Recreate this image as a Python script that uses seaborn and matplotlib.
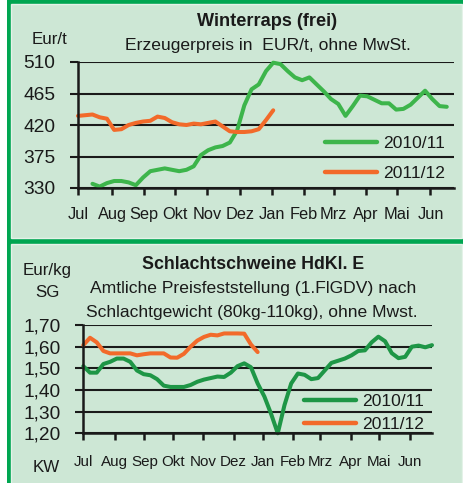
import matplotlib
matplotlib.use("Agg")
import matplotlib.pyplot as plt
import seaborn as sns
import pandas as pd
from matplotlib.patches import Rectangle

# ---------------- data ----------------
months = ["Jul", "Aug", "Sep", "Okt", "Nov", "Dez", "Jan", "Feb", "Mrz", "Apr", "Mai", "Jun"]
month_pos = [0, 4.7, 9.1, 13.45, 17.9, 22.4, 26.8, 31.2, 35.35, 39.85, 44.15, 48.75]  # week of month start
seasons = ["2010/11", "2011/12"]

raps_weeks_1011 = list(range(2, 52))
raps_1011 = [336, 332, 337, 340, 340, 338, 334, 345, 354, 356,
             358, 356, 354, 356, 361, 377, 384, 388, 390, 395,
             412, 448, 471, 478, 497, 509, 507, 497, 488, 484,
             488, 478, 468, 457, 450, 433, 447, 462, 461, 456,
             451, 451, 442, 443, 449, 459, 469, 457, 447, 446]
raps_weeks_1112 = list(range(0, 28))
raps_1112 = [433, 434, 435, 431, 429, 413, 414, 420, 423, 425,
             426, 432, 430, 424, 421, 420, 422, 421, 423, 425,
             418, 411, 410, 410, 411, 414, 427, 441]

sw_weeks_1011 = list(range(0, 53))
sw_1011 = [1.51, 1.48, 1.48, 1.52, 1.53, 1.545, 1.545, 1.53, 1.49, 1.473,
           1.468, 1.45, 1.42, 1.414, 1.414, 1.414, 1.423, 1.438, 1.448, 1.455,
           1.462, 1.46, 1.48, 1.51, 1.523, 1.505, 1.43, 1.37, 1.29, 1.20,
           1.33, 1.43, 1.476, 1.47, 1.45, 1.455, 1.49, 1.525, 1.535, 1.545,
           1.56, 1.58, 1.583, 1.62, 1.646, 1.625, 1.57, 1.547, 1.553, 1.60,
           1.605, 1.597, 1.607]
sw_weeks_1112 = list(range(0, 27))
sw_1112 = [1.607, 1.641, 1.62, 1.58, 1.569, 1.569, 1.569, 1.569, 1.56, 1.565,
           1.569, 1.569, 1.569, 1.55, 1.549, 1.567, 1.60, 1.628, 1.645, 1.655,
           1.652, 1.661, 1.661, 1.661, 1.66, 1.61, 1.575]

raps_ticks = [330, 375, 420, 465, 510]
sw_ticks = [1.20, 1.30, 1.40, 1.50, 1.60, 1.70]
sw_ticklabels = ["1,20", "1,30", "1,40", "1,50", "1,60", "1,70"]

df_raps = pd.concat([
    pd.DataFrame({"week": raps_weeks_1011, "value": raps_1011, "season": seasons[0]}),
    pd.DataFrame({"week": raps_weeks_1112, "value": raps_1112, "season": seasons[1]}),
])
df_sw = pd.concat([
    pd.DataFrame({"week": sw_weeks_1011, "value": sw_1011, "season": seasons[0]}),
    pd.DataFrame({"week": sw_weeks_1112, "value": sw_1112, "season": seasons[1]}),
])

# ---------------- style ----------------
sns.set_theme(style="white")
FONT = ["Liberation Sans", "DejaVu Sans"]
plt.rcParams["font.family"] = FONT
INK = "#1a1a1a"

W, H = 464, 483
fig = plt.figure(figsize=(W / 100, H / 100), dpi=100)
fig.patch.set_facecolor("white")

def fx(px):
    return px / W

def fy(py):
    return 1 - py / H

BORDER = "#00a651"
PANEL = "#cde7d5"
fig.patches.append(Rectangle((fx(7), 0), fx(464) - fx(7), 1, transform=fig.transFigure,
                             facecolor=BORDER, edgecolor="none", zorder=-3))
fig.patches.append(Rectangle((fx(11.5), fy(237.5)), fx(462) - fx(11.5), fy(4) - fy(237.5),
                             transform=fig.transFigure, facecolor=PANEL,
                             edgecolor="#e4f2e8", linewidth=1, zorder=-2))
fig.patches.append(Rectangle((fx(11.5), fy(485)), fx(462) - fx(11.5), fy(243.5) - fy(485),
                             transform=fig.transFigure, facecolor=PANEL,
                             edgecolor="#e4f2e8", linewidth=1, zorder=-2))

top_pal = {"2010/11": "#3db54b", "2011/12": "#f26a2a"}
bot_pal = {"2010/11": "#1e9646", "2011/12": "#f26a2a"}

def style_axes(ax, ylim, yticks, yticklabels, month_fs, month_pad):
    ax.set_zorder(5)
    ax.set_facecolor("none")
    ax.set_xlim(0, 52)
    ax.set_ylim(*ylim)
    ax.set_yticks(yticks)
    ax.set_yticklabels(yticklabels, fontsize=13.8, color=INK)
    ax.set_xticks(month_pos)
    ax.set_xticklabels(months, fontsize=month_fs, color=INK)
    ax.grid(True, axis="y", color=INK, linewidth=1.5)
    ax.grid(False, axis="x")
    for s in ["top", "right"]:
        ax.spines[s].set_visible(False)
    for s in ["left", "bottom"]:
        ax.spines[s].set_color(INK)
        ax.spines[s].set_linewidth(1.8)
    ax.tick_params(axis="y", direction="out", length=6, width=1.5, color=INK, pad=10.5, left=True)
    ax.tick_params(axis="x", direction="out", length=5, width=1.8, color=INK, pad=month_pad, bottom=True)
    ax.set_xlabel("")
    ax.set_ylabel("")

# ---------------- top chart ----------------
ax1 = fig.add_axes([fx(78), fy(188), fx(454) - fx(78), fy(62) - fy(188)])
sns.lineplot(data=df_raps, x="week", y="value", hue="season", hue_order=seasons,
             palette=top_pal, linewidth=2.9, ax=ax1, legend=False)
style_axes(ax1, (330, 510), raps_ticks, [str(t) for t in raps_ticks], 11.8, 9.0)
for ln in ax1.lines:
    ln.set_solid_capstyle("round")
    ln.set_clip_on(False)

h1 = [plt.Line2D([], [], color=top_pal[s], linewidth=3.2) for s in seasons]
leg1 = ax1.legend(h1, seasons, loc="center left", bbox_to_anchor=(fx(325), fy(158.5)),
                  bbox_transform=fig.transFigure, frameon=False,
                  prop={"size": 12.6}, handlelength=2.95,
                  handletextpad=0.4, labelspacing=0.85, borderpad=0, borderaxespad=0)
for t in leg1.get_texts():
    t.set_color(INK)

fig.text(fx(267), fy(26), "Winterraps (frei)", ha="center", va="baseline",
         fontsize=13.1, fontweight="bold", color=INK)
fig.text(fx(50), fy(44), "Eur/t", ha="center", va="baseline",
         fontsize=12.2, color=INK)
fig.text(fx(267.5), fy(50), "Erzeugerpreis in  EUR/t, ohne MwSt.", ha="center", va="baseline",
         fontsize=12.6, color=INK)

# ---------------- bottom chart ----------------
ax2 = fig.add_axes([fx(83.3), fy(433.3), fx(432) - fx(83.3), fy(325) - fy(433.3)])
sns.lineplot(data=df_sw, x="week", y="value", hue="season", hue_order=seasons,
             palette=bot_pal, linewidth=2.9, ax=ax2, legend=False)
style_axes(ax2, (1.20, 1.70), sw_ticks, sw_ticklabels, 10.9, 10.5)
for ln in ax2.lines:
    ln.set_solid_capstyle("round")
    ln.set_clip_on(False)

h2 = [plt.Line2D([], [], color=bot_pal[s], linewidth=3.2) for s in seasons]
leg2 = ax2.legend(h2, seasons, loc="center left", bbox_to_anchor=(fx(304), fy(413)),
                  bbox_transform=fig.transFigure, frameon=False,
                  prop={"size": 12.6}, handlelength=3.0,
                  handletextpad=0.3, labelspacing=0.45, borderpad=0, borderaxespad=0)
for t in leg2.get_texts():
    t.set_color(INK)

fig.text(fx(253), fy(269), "Schlachtschweine HdKl. E", ha="center", va="baseline",
         fontsize=12.8, fontweight="bold", color=INK)
fig.text(fx(47), fy(275), "Eur/kg", ha="center", va="baseline",
         fontsize=12.2, color=INK)
fig.text(fx(47), fy(297), "SG", ha="center", va="baseline",
         fontsize=12.2, color=INK)
fig.text(fx(253), fy(293), "Amtliche Preisfeststellung (1.FlGDV) nach", ha="center", va="baseline",
         fontsize=12.6, color=INK)
fig.text(fx(252), fy(317), "Schlachtgewicht (80kg-110kg), ohne Mwst.", ha="center", va="baseline",
         fontsize=12.6, color=INK)
fig.text(fx(46), fy(472), "KW", ha="center", va="baseline",
         fontsize=12.2, color=INK)

fig.savefig("out.png", dpi=100, facecolor=fig.get_facecolor())
